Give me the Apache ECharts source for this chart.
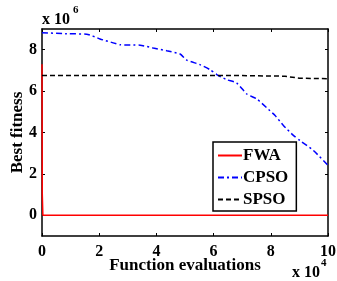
<!DOCTYPE html>
<html>
<head>
<meta charset="utf-8">
<script src="https://cdn.jsdelivr.net/npm/echarts@6/dist/echarts.min.js"></script>
<style>html,body{margin:0;padding:0;background:#fff}#c{width:337px;height:281px}</style>
</head>
<body>
<div id="c"></div>
<script>
// x in units of 1e4 evaluations, y in units of 1e6
var fwaX = [0, 0.01, 0.03, 10];
var fwaY = [7.3, 1.0, 0, 0];
var cpsoX = [0, 0.86, 1.56, 2.03, 2.49, 2.73, 3.43, 3.89, 4.36, 4.83, 5.06, 5.52, 5.87, 6.11, 6.46, 6.81, 7.16, 7.51, 7.86, 8.15, 8.44, 8.79, 9.02, 9.49, 10];
var cpsoY = [8.82, 8.77, 8.75, 8.52, 8.33, 8.24, 8.22, 8.08, 7.95, 7.79, 7.5, 7.28, 7.04, 6.8, 6.55, 6.39, 5.86, 5.62, 5.19, 4.82, 4.34, 3.86, 3.61, 3.13, 2.41];
var spsoX = [0, 7.0, 8.5, 9.0, 10];
var spsoY = [6.75, 6.75, 6.72, 6.62, 6.6];
var xTicks = [0, 2, 4, 6, 8, 10];
var yTicks = [0, 2, 4, 6, 8];

function pairs(xs, ys) { return xs.map(function (x, i) { return [x, ys[i]]; }); }

var FONT = '"Liberation Serif", "DejaVu Serif", serif';
var chart = echarts.init(document.getElementById('c'), null, {renderer: 'canvas'});
var axisCommon = {
  axisLine: {show: true, onZero: false, lineStyle: {color: '#000', width: 1.5}},
  splitLine: {show: false}
};
chart.setOption({
  animation: false,
  backgroundColor: '#fff',
  grid: {left: 42, right: 9, top: 29, bottom: 45, containLabel: false, outerBoundsMode: 'none'},
  xAxis: [
    Object.assign({
      type: 'value', min: 0, max: 10, position: 'bottom',
      axisTick: {show: true, inside: true, length: 3, customValues: xTicks, lineStyle: {color: '#000', width: 1}},
      axisLabel: {customValues: xTicks, color: '#000', fontFamily: FONT, fontWeight: 'bold', fontSize: 16, margin: 8},
      name: 'Function evaluations', nameLocation: 'middle', nameGap: 21, nameMoveOverlap: false,
      nameTextStyle: {color: '#000', fontFamily: FONT, fontWeight: 'bold', fontSize: 17}
    }, axisCommon),
    Object.assign({
      type: 'value', min: 0, max: 10, position: 'top',
      axisTick: {show: true, inside: true, length: 3, customValues: xTicks, lineStyle: {color: '#000', width: 1}},
      axisLabel: {show: false}
    }, axisCommon)
  ],
  yAxis: [
    Object.assign({
      type: 'value', min: -1, max: 9, position: 'left',
      axisTick: {show: true, inside: true, length: 3, customValues: yTicks, lineStyle: {color: '#000', width: 1}},
      axisLabel: {customValues: yTicks, color: '#000', fontFamily: FONT, fontWeight: 'bold', fontSize: 16, margin: 5},
      name: 'Best fitness', nameLocation: 'middle', nameGap: 16, nameMoveOverlap: false,
      nameTextStyle: {color: '#000', fontFamily: FONT, fontWeight: 'bold', fontSize: 17}
    }, axisCommon),
    Object.assign({
      type: 'value', min: -1, max: 9, position: 'right',
      axisTick: {show: true, inside: true, length: 3, customValues: yTicks, lineStyle: {color: '#000', width: 1}},
      axisLabel: {show: false}
    }, axisCommon)
  ],
  legend: {
    orient: 'vertical', left: 213, top: 142,
    padding: [5, 8, 3, 4], itemGap: 5, itemWidth: 24, itemHeight: 14,
    borderColor: '#000', borderWidth: 1.5, backgroundColor: '#fff',
    itemStyle: {opacity: 0, borderWidth: 0},
    textStyle: {color: '#000', fontFamily: FONT, fontWeight: 'bold', fontSize: 17, padding: [0, 0, 0, -4]},
    data: ['FWA', 'CPSO', 'SPSO']
  },
  graphic: [
    {type: 'text', left: 42, top: 12, style: {text: 'x 10', fill: '#000', font: 'bold 16px ' + FONT}},
    {type: 'text', left: 73, top: 5, style: {text: '6', fill: '#000', font: 'bold 11px ' + FONT}},
    {type: 'text', left: 292, top: 265, style: {text: 'x 10', fill: '#000', font: 'bold 16px ' + FONT}},
    {type: 'text', left: 321, top: 258, style: {text: '4', fill: '#000', font: 'bold 11px ' + FONT}}
  ],
  series: [
    {name: 'FWA', type: 'line', data: pairs(fwaX, fwaY), showSymbol: false, symbol: 'none',
     lineStyle: {color: '#ff0000', width: 1.5}, itemStyle: {color: '#ff0000'}, z: 3},
    {name: 'CPSO', type: 'line', data: pairs(cpsoX, cpsoY), showSymbol: false, symbol: 'none', smooth: 0.2,
     lineStyle: {color: '#0000ff', width: 1.5, type: [6, 3, 2, 3]}, itemStyle: {color: '#0000ff'}},
    {name: 'SPSO', type: 'line', data: pairs(spsoX, spsoY), showSymbol: false, symbol: 'none',
     lineStyle: {color: '#000', width: 1.5, type: [5, 3]}, itemStyle: {color: '#000'}}
  ]
});
</script>
</body>
</html>
